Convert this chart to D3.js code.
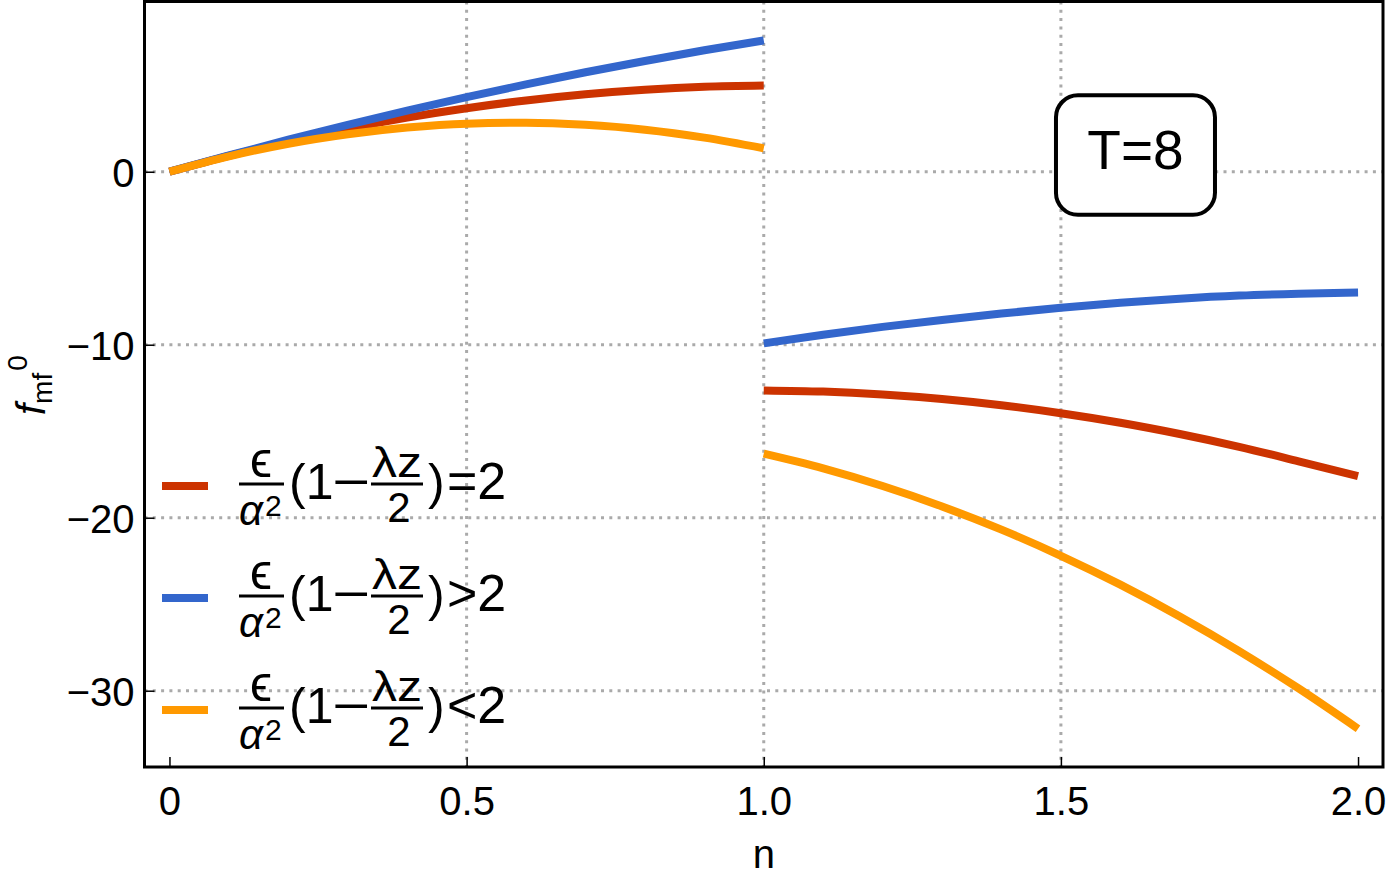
<!DOCTYPE html>
<html>
<head>
<meta charset="utf-8">
<script src="https://cdn.jsdelivr.net/npm/d3@7"></script>
<style>
  body { margin: 0; background: #fff; }
  text { font-family: "Liberation Sans", Arial, sans-serif; fill: #000; }
</style>
</head>
<body>
<div id="main"></div>
<script>
// ---------------- data -----------------//

let nLeft = [0, 0.1, 0.2, 0.3, 0.4, 0.5, 0.6, 0.7, 0.8, 0.9, 1.0];
let nRight = [1.0, 1.1, 1.2, 1.3, 1.4, 1.5, 1.6, 1.7, 1.8, 1.9, 2.0];

let redLeft = [0, 0.92, 1.75, 2.49, 3.13, 3.67, 4.12, 4.48, 4.74, 4.91, 4.98];
let blueLeft = [0, 0.94, 1.85, 2.71, 3.53, 4.31, 5.05, 5.75, 6.40, 7.02, 7.59];
let orangeLeft = [0, 0.89, 1.62, 2.17, 2.56, 2.78, 2.83, 2.71, 2.43, 1.97, 1.35];

let redRight = [-12.64, -12.71, -12.88, -13.14, -13.50, -13.96, -14.51, -15.16, -15.90, -16.74, -17.60];
let blueRight = [-9.92, -9.42, -8.97, -8.57, -8.20, -7.86, -7.58, -7.34, -7.16, -7.05, -6.98];
let orangeRight = [-16.30, -17.15, -18.17, -19.35, -20.69, -22.20, -23.87, -25.71, -27.71, -29.87, -32.20];

let xTicks = [0, 0.5, 1, 1.5, 2];
let xTickLabels = ["0", "0.5", "1.0", "1.5", "2.0"];
let yTicks = [0, -10, -20, -30];
let xGrid = [0.5, 1, 1.5];
let yGrid = [0, -10, -20, -30];

let seriesNames = ["=2", ">2", "<2"];
let seriesColors = ["#cc3300", "#3366cc", "#ff9900"];

// ---------------- layout -----------------//

let width = 1389;
let height = 879;

let svg = d3.select("#main")
  .append("svg")
  .attr("width", width)
  .attr("height", height)

let x = d3.scaleLinear().domain([-0.042, 2.042]).range([144.5, 1383]);
let y = d3.scaleLinear().domain([-34.41, 9.84]).range([767, 1.5]);

// grid
svg.append("g").selectAll("line")
  .data(xGrid)
  .join("line")
  .attr("x1", d => x(d)).attr("x2", d => x(d))
  .attr("y1", y.range()[1]).attr("y2", y.range()[0])
  .attr("stroke", "#aaaaaa")
  .attr("stroke-width", 3)
  .attr("stroke-dasharray", "3 5.3")

svg.append("g").selectAll("line")
  .data(yGrid)
  .join("line")
  .attr("x1", x.range()[0]).attr("x2", x.range()[1])
  .attr("y1", d => y(d)).attr("y2", d => y(d))
  .attr("stroke", "#aaaaaa")
  .attr("stroke-width", 3)
  .attr("stroke-dasharray", "3 5.3")

// series
let line = d3.line()
  .x(d => x(d[0]))
  .y(d => y(d[1]))
  .curve(d3.curveMonotoneX);

let series = [
  {color: seriesColors[0], left: redLeft, right: redRight},
  {color: seriesColors[1], left: blueLeft, right: blueRight},
  {color: seriesColors[2], left: orangeLeft, right: orangeRight},
];

series.forEach(function(s) {
  [[nLeft, s.left], [nRight, s.right]].forEach(function(pair) {
    svg.append("path")
      .datum(pair[0].map((n, i) => [n, pair[1][i]]))
      .attr("d", line)
      .attr("fill", "none")
      .attr("stroke", s.color)
      .attr("stroke-width", 8)
  })
})

// axes
let xAxis = d3.axisBottom(x)
  .tickValues(xTicks)
  .tickFormat((d, i) => xTickLabels[i])
  .tickSizeInner(-10)
  .tickSizeOuter(0)
  .tickPadding(20);

let yAxis = d3.axisLeft(y)
  .tickValues(yTicks)
  .tickSizeInner(-10)
  .tickSizeOuter(0)
  .tickPadding(10);

let gx = svg.append("g")
  .attr("transform", `translate(0, ${y.range()[0]})`)
  .call(xAxis);
let gy = svg.append("g")
  .attr("transform", `translate(${x.range()[0]}, 0)`)
  .call(yAxis);

[gx, gy].forEach(function(g) {
  g.select(".domain").remove();
  g.selectAll(".tick line").attr("stroke", "#000").attr("stroke-width", 1.5);
  g.selectAll(".tick text")
    .style("font-family", "'Liberation Sans', Arial, sans-serif")
    .style("font-size", "40px")
    .attr("fill", "#000");
})
gy.selectAll(".tick text").attr("dy", "0.36em");

// frame
svg.append("rect")
  .attr("x", x.range()[0])
  .attr("y", y.range()[1])
  .attr("width", x.range()[1] - x.range()[0])
  .attr("height", y.range()[0] - y.range()[1])
  .attr("fill", "none")
  .attr("stroke", "#000")
  .attr("stroke-width", 3)

// axis labels
svg.append("text")
  .attr("x", x(1))
  .attr("y", 868)
  .attr("text-anchor", "middle")
  .style("font-size", "40px")
  .text("n")

let ylab = svg.append("text")
  .attr("transform", "translate(45, 415) rotate(-90)")
ylab.append("tspan").style("font-size", "40px").style("font-style", "italic").text("f")
ylab.append("tspan").style("font-size", "28px").attr("dy", 7).text("mf")
ylab.append("tspan").style("font-size", "28px").attr("dy", -25).attr("dx", 2).text("0")

// T=8 annotation
let note = svg.append("g")
  .attr("transform", `translate(${x(1.6255)}, ${y(0.98)})`)
note.append("rect")
  .attr("x", -79.5).attr("y", -59.5)
  .attr("width", 159).attr("height", 119.5)
  .attr("rx", 22).attr("ry", 22)
  .attr("fill", "#fff")
  .attr("stroke", "#000")
  .attr("stroke-width", 4)
note.append("text")
  .attr("text-anchor", "middle")
  .attr("y", 14)
  .style("font-size", "55px")
  .text("T=8")

// legend
let legend = svg.append("g")
  .selectAll("g")
  .data(seriesNames)
  .join("g")
  .attr("transform", (d, i) => `translate(0, ${486 + i * 112})`)

legend.append("line")
  .attr("x1", 162).attr("x2", 208)
  .attr("y1", 0).attr("y2", 0)
  .attr("stroke", (d, i) => seriesColors[i])
  .attr("stroke-width", 8)

legend.each(function(d) {
  let g = d3.select(this);
  // ϵ / α²
  g.append("text").attr("x", 261).attr("y", -9).attr("text-anchor", "middle")
    .style("font-size", "50px").text("ϵ");
  g.append("line").attr("x1", 239).attr("x2", 284).attr("y1", -2).attr("y2", -2)
    .attr("stroke", "#000").attr("stroke-width", 3);
  g.append("text").attr("x", 239).attr("y", 39)
    .style("font-size", "42px").style("font-style", "italic").text("α");
  g.append("text").attr("x", 265).attr("y", 30)
    .style("font-size", "30px").text("2");
  // (1−
  g.append("text").attr("x", 289).attr("y", 13)
    .style("font-size", "50px").text("(1");
  g.append("text").attr("x", 332).attr("y", 13)
    .attr("textLength", 38).attr("lengthAdjust", "spacingAndGlyphs")
    .style("font-size", "50px").text("−");
  // λz / 2
  g.append("text").attr("x", 397).attr("y", -9).attr("text-anchor", "middle")
    .attr("textLength", 50).attr("lengthAdjust", "spacingAndGlyphs")
    .style("font-size", "42px").text("λz");
  g.append("line").attr("x1", 371).attr("x2", 423).attr("y1", -2).attr("y2", -2)
    .attr("stroke", "#000").attr("stroke-width", 3);
  g.append("text").attr("x", 399).attr("y", 36).attr("text-anchor", "middle")
    .style("font-size", "42px").text("2");
  // )=2
  g.append("text").attr("x", 428).attr("y", 13)
    .style("font-size", "50px").text(")");
  g.append("text").attr("x", 447).attr("y", 13)
    .style("font-size", "52px").text(d);
})
</script>
</body>
</html>
